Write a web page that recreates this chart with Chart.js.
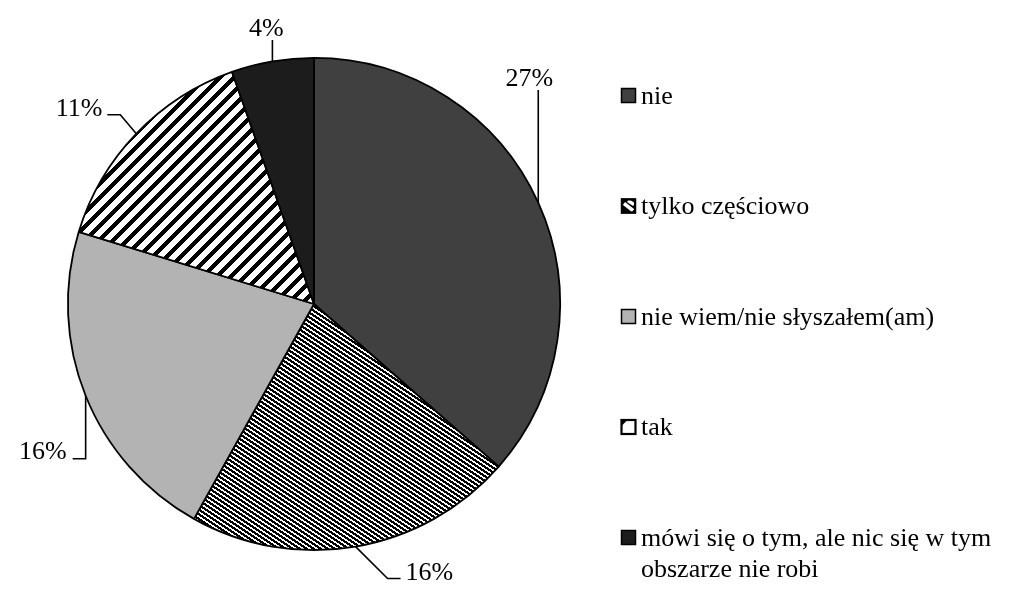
<!DOCTYPE html>
<html><head><meta charset="utf-8">
<script src="https://cdn.jsdelivr.net/npm/chart.js@4/dist/chart.umd.min.js"></script>
<style>html,body{margin:0;padding:0;background:#fff;}canvas{display:block;}</style>
</head><body>
<canvas id="c" width="1024" height="605"></canvas>
<script>
// ---- data ----
const categories = ['nie', 'tylko częściowo', 'nie wiem/nie słyszałem(am)', 'tak', 'mówi się o tym, ale nic się w tym obszarze nie robi'];
const values = [27, 16, 16, 11, 4];
const valueLabels = ['27%', '16%', '16%', '11%', '4%'];

// ---- crisp pixel patterns ----
function makeTile(w, h, isBlack) {
  const c = document.createElement('canvas');
  c.width = w; c.height = h;
  const g = c.getContext('2d');
  const img = g.createImageData(w, h);
  for (let y = 0; y < h; y++) {
    for (let x = 0; x < w; x++) {
      const v = isBlack(x, y) ? 0 : 255;
      const o = (y * w + x) * 4;
      img.data[o] = img.data[o + 1] = img.data[o + 2] = v;
      img.data[o + 3] = 255;
    }
  }
  g.putImageData(img, 0, 0);
  return c;
}
function mod(a, m) { return ((a % m) + m) % m; }
// dense downward diagonal "\" (slope 2/3, horizontal period 7)
const denseTile = makeTile(7, 14, (x, y) => mod(2 * x - 3 * y, 14) < 8);
// wide upward diagonal "/" : 14x14 tile
const wideTile = makeTile(14, 14, (x, y) => mod(x + y, 14) < 6);

const ctx = document.getElementById('c').getContext('2d');
const densePattern = ctx.createPattern(denseTile, 'repeat');
const widePattern = ctx.createPattern(wideTile, 'repeat');
const fills = ['#404040', densePattern, '#b3b3b3', widePattern, '#1c1c1c'];

const FONT = '26px "Liberation Serif", "Times New Roman", serif';

// leader lines: points relative to the anchor on the slice edge, then text placement relative to last point
const leaderStyle = [
  { pts: [[0, 'up214']], text: [-9, -4], align: 'center' },
  { pts: [[32, 32], [45, 32]], text: [5, 1], align: 'left' },
  { pts: [[0, 63], [-13, 63]], text: [-6, 0], align: 'right' },
  { pts: [[-16, -19], [-29, -19]], text: [-5, 1], align: 'right' },
  { pts: [[0, 'up264']], text: [-6, -4], align: 'center' }
];

const labelPlugin = {
  id: 'pieLabels',
  afterDatasetsDraw(chart) {
    const meta = chart.getDatasetMeta(0);
    const g = chart.ctx;
    g.save();
    g.strokeStyle = '#000'; g.lineWidth = 1.6; g.lineJoin = 'miter';
    g.fillStyle = '#000'; g.font = FONT; g.textBaseline = 'alphabetic';
    meta.data.forEach((arc, i) => {
      const p = arc.getProps(['x', 'y', 'startAngle', 'endAngle', 'outerRadius'], true);
      const a = (p.startAngle + p.endAngle) / 2;
      const ax = p.x + Math.cos(a) * p.outerRadius;
      const ay = p.y + Math.sin(a) * p.outerRadius;
      const st = leaderStyle[i];
      g.beginPath();
      g.moveTo(ax, ay);
      let ex = ax, ey = ay;
      st.pts.forEach(([dx, dy]) => {
        if (typeof dy === 'string') {
          ex = ax + dx; ey = p.y - parseFloat(dy.slice(2));
        } else { ex = ax + dx; ey = ay + dy; }
        g.lineTo(ex, ey);
      });
      g.stroke();
      g.textAlign = st.align;
      g.fillText(valueLabels[i], ex + st.text[0], ey + st.text[1]);
    });
    g.restore();
  }
};

function wrap(g, text, maxW) {
  const words = text.split(' ');
  const lines = []; let cur = '';
  words.forEach(w => {
    const t = cur ? cur + ' ' + w : w;
    if (g.measureText(t).width > maxW && cur) { lines.push(cur); cur = w; }
    else cur = t;
  });
  if (cur) lines.push(cur);
  return lines;
}

const legendPlugin = {
  id: 'sideLegend',
  afterDraw(chart) {
    const g = chart.ctx;
    g.save();
    g.font = FONT; g.textBaseline = 'alphabetic'; g.textAlign = 'left';
    const bx = 621, box = 15, firstTop = 88, gap = 110.5;
    categories.forEach((cat, i) => {
      const by = firstTop + i * gap;
      // icon
      g.lineWidth = 1.5; g.strokeStyle = '#000';
      if (i === 1) {
        g.fillStyle = '#000'; g.fillRect(bx, by, box, box);
        g.save();
        g.beginPath(); g.rect(bx + 2, by + 2, box - 4, box - 4); g.clip();
        g.strokeStyle = '#fff'; g.lineWidth = 3.5;
        g.beginPath(); g.moveTo(bx + 3, by + 5); g.lineTo(bx + 12, by + 12); g.stroke();
        g.beginPath(); g.moveTo(bx + 7, by + 2); g.lineTo(bx + 13, by + 6); g.stroke();
        g.restore();
      } else if (i === 3) {
        g.fillStyle = '#fff'; g.fillRect(bx, by, box, box);
        g.fillStyle = '#000';
        g.beginPath(); g.moveTo(bx, by); g.lineTo(bx + 7, by); g.lineTo(bx, by + 7); g.closePath(); g.fill();
        g.lineWidth = 2.2;
      } else {
        g.fillStyle = fills[i]; g.fillRect(bx, by, box, box);
      }
      g.strokeRect(bx + 0.5, by + 0.5, box - 1, box - 1);
      // text
      g.fillStyle = '#000';
      const lines = wrap(g, cat, 372);
      lines.forEach((ln, k) => g.fillText(ln, bx + 20, by + box + 0.5 + k * 31));
    });
    g.restore();
  }
};

new Chart(ctx, {
  type: 'pie',
  data: {
    labels: categories,
    datasets: [{
      data: values,
      backgroundColor: fills,
      borderColor: '#000',
      borderWidth: 1.8
    }]
  },
  options: {
    responsive: false,
    animation: false,
    layout: { padding: { left: 67, top: 57, right: 463, bottom: 54 } },
    plugins: { legend: { display: false }, tooltip: { enabled: false } }
  },
  plugins: [labelPlugin, legendPlugin]
});
</script>
</body></html>
